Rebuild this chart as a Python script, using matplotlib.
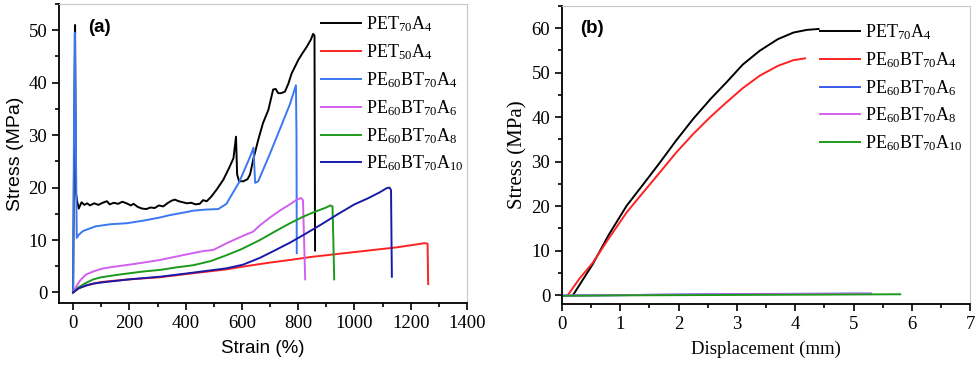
import numpy as np
import matplotlib.pyplot as plt
from matplotlib.ticker import MultipleLocator

plt.rcParams['font.family'] = ['Liberation Serif', 'DejaVu Serif']
plt.rcParams['mathtext.fontset'] = 'custom'
plt.rcParams['mathtext.rm'] = 'Liberation Serif'
plt.rcParams['mathtext.it'] = 'Liberation Serif'

# ---- (a) stress-strain data ----
pet70_x = [0, 4, 7, 10, 14, 20, 30, 40, 50, 60, 75, 90, 105, 120, 130, 145, 160, 175, 190, 205, 215,
           230, 245, 260, 275, 290, 305, 320, 335, 350, 362, 375, 390, 405, 420, 435, 450, 462, 475,
           490, 510, 534, 555, 570, 579, 583, 590, 605, 620, 629, 640, 658, 675, 694, 711, 720, 729,
           740, 753, 765, 777, 790, 800, 815, 830, 845, 853, 858, 860]
pet70_y = [0, 30, 51, 19, 17.5, 16.0, 17.2, 16.7, 17.0, 16.6, 17.0, 16.7, 17.1, 17.4, 16.8, 17.1, 16.9, 17.3, 17.0, 16.6, 16.9,
           16.3, 16.0, 15.9, 16.2, 16.1, 16.6, 16.4, 17.0, 17.5, 17.7, 17.4, 17.2, 17.0, 17.1, 16.8, 16.9, 17.6, 17.4,
           18.2, 19.6, 21.5, 23.8, 25.6, 29.7, 22.5, 21.2, 21.2, 21.6, 22.5, 25.3, 29.1, 32.3, 34.8, 38.7, 38.8, 38.0,
           38.0, 38.3, 39.8, 41.8, 43.2, 44.3, 45.6, 46.8, 48.2, 49.3, 49.0, 8.0]

pet50_x = [0, 20, 50, 100, 200, 309, 400, 545, 600, 700, 771, 850, 950, 1050, 1150, 1200, 1250, 1260, 1262]
pet50_y = [0, 0.8, 1.4, 2.0, 2.5, 2.9, 3.5, 4.4, 4.9, 5.7, 6.2, 6.8, 7.4, 8.0, 8.6, 9.0, 9.4, 9.3, 1.6]

a4_x = [0, 3, 6, 13, 20, 35, 49, 80, 131, 191, 250, 280, 309, 340, 369, 400, 428, 470, 516, 545,
        569, 590, 610, 630, 641, 647, 658, 700, 740, 770, 792, 794, 795]
a4_y = [0, 30, 49.5, 10.4, 11.0, 11.7, 12.0, 12.6, 13.0, 13.2, 13.7, 14.0, 14.3, 14.7, 15.0, 15.3, 15.6, 15.8, 15.9, 16.9,
        19.1, 21.0, 23.5, 26.0, 27.6, 20.9, 21.2, 26.5, 31.8, 35.8, 39.5, 30.0, 7.5]

a6_x = [0, 10, 25, 45, 72, 100, 131, 200, 250, 309, 380, 463, 498, 550, 600, 640, 664,
        700, 740, 771, 795, 810, 817, 821, 825]
a6_y = [0, 1.0, 2.3, 3.4, 4.0, 4.5, 4.8, 5.3, 5.7, 6.2, 7.0, 7.9, 8.1, 9.5, 10.7, 11.6, 12.8,
        14.3, 15.8, 16.8, 17.7, 18.0, 17.6, 10.0, 2.5]

a8_x = [0, 20, 45, 72, 100, 150, 191, 250, 309, 370, 428, 490, 545, 600, 664, 720, 771, 820, 860,
        895, 915, 922, 925, 928]
a8_y = [0, 1.0, 1.8, 2.5, 2.9, 3.3, 3.6, 4.0, 4.3, 4.8, 5.2, 6.0, 7.1, 8.3, 10.0, 11.7, 13.2, 14.5, 15.4,
        16.1, 16.6, 16.4, 10.0, 2.5]

a10_x = [0, 20, 45, 72, 100, 200, 309, 400, 545, 604, 664, 720, 771, 820, 880, 940, 1000,
         1050, 1090, 1115, 1125, 1130, 1133]
a10_y = [0, 0.8, 1.3, 1.7, 1.9, 2.5, 3.0, 3.6, 4.6, 5.3, 6.6, 8.1, 9.5, 11.0, 12.9, 14.9, 16.8,
         18.0, 19.1, 19.9, 20.0, 19.5, 3.0]

# ---- (b) stress-displacement data ----
b_pet_x = [0.19, 0.35, 0.53, 0.8, 1.11, 1.4, 1.68, 1.95, 2.25, 2.55, 2.82, 3.1, 3.39, 3.7, 3.97, 4.2, 4.4]
b_pet_y = [0, 3.3, 7.0, 13.5, 20.1, 25.0, 29.8, 34.6, 39.6, 44.1, 47.8, 51.8, 54.9, 57.5, 59.0, 59.6, 59.8]
b_a4_x = [0.10, 0.3, 0.53, 0.8, 1.11, 1.4, 1.68, 1.95, 2.25, 2.55, 2.82, 3.1, 3.39, 3.7, 3.97, 4.17]
b_a4_y = [0, 3.7, 7.3, 12.7, 18.6, 23.2, 27.6, 31.9, 36.2, 40.1, 43.3, 46.5, 49.3, 51.5, 52.8, 53.2]
b_a6_x = [0, 1, 2, 3, 4, 5, 5.3]
b_a6_y = [-0.1, 0.0, 0.15, 0.25, 0.3, 0.35, 0.35]
b_a8_x = [0, 1, 2, 3, 4, 5, 5.3]
b_a8_y = [-0.1, 0.0, 0.1, 0.2, 0.25, 0.3, 0.3]
b_a10_x = [0, 1, 2, 3, 4, 5, 5.8]
b_a10_y = [-0.15, -0.05, 0.0, 0.05, 0.1, 0.15, 0.2]

lab_pet70 = r'PET$_{70}$A$_{4}$'
lab_pet50 = r'PET$_{50}$A$_{4}$'
lab_a4 = r'PE$_{60}$BT$_{70}$A$_{4}$'
lab_a6 = r'PE$_{60}$BT$_{70}$A$_{6}$'
lab_a8 = r'PE$_{60}$BT$_{70}$A$_{8}$'
lab_a10 = r'PE$_{60}$BT$_{70}$A$_{10}$'

c_black = '#000000'
c_red = '#ff2222'
c_lblue = '#3a78f2'
c_mag = '#d35ff0'
c_green = '#1c9a1c'
c_dblue = '#1a1aa8'
c_blue_b = '#3a5ae8'

fig = plt.figure(figsize=(9.79, 3.65), dpi=100)
ax1 = fig.add_axes([0.0603, 0.170, 0.4167, 0.819])
ax2 = fig.add_axes([0.574, 0.167, 0.417, 0.817])


def style_axes(ax):
    ax.spines['top'].set_color('#c8c8c8')
    ax.spines['right'].set_color('#c8c8c8')
    ax.spines['left'].set_linewidth(1.3)
    ax.spines['bottom'].set_linewidth(1.3)
    ax.tick_params(which='both', direction='out', top=False, right=False, width=1.2)
    ax.tick_params(which='major', length=5, labelsize=13.5)
    ax.tick_params(which='minor', length=3)


lw = 1.4
ax1.plot(pet70_x, pet70_y, color=c_black, lw=lw, label=lab_pet70)
ax1.plot(pet50_x, pet50_y, color=c_red, lw=lw, label=lab_pet50)
ax1.plot(a4_x, a4_y, color=c_lblue, lw=lw, label=lab_a4)
ax1.plot(a6_x, a6_y, color=c_mag, lw=lw, label=lab_a6)
ax1.plot(a8_x, a8_y, color=c_green, lw=lw, label=lab_a8)
ax1.plot(a10_x, a10_y, color=c_dblue, lw=lw, label=lab_a10)
ax1.set_xlim(-50, 1400)
ax1.set_ylim(-2, 55)
ax1.xaxis.set_major_locator(MultipleLocator(200))
ax1.xaxis.set_minor_locator(MultipleLocator(100))
ax1.yaxis.set_major_locator(MultipleLocator(10))
ax1.yaxis.set_minor_locator(MultipleLocator(5))
style_axes(ax1)
ax1.set_xlabel('Strain (%)', fontsize=13.5, family=['Liberation Sans'], labelpad=6)
ax1.set_ylabel('Stress (MPa)', fontsize=14, family=['Liberation Sans'], labelpad=3)
ax1.text(0.071, 0.923, '(a)', transform=ax1.transAxes, fontsize=13.5, fontweight='bold',
         family=['Liberation Sans'], va='center')
ax1.legend(loc='upper right', bbox_to_anchor=(1.015, 0.995), frameon=False, fontsize=13,
           handlelength=2.2, labelspacing=0.45, borderaxespad=0.1, handletextpad=0.3)

ax2.plot(b_pet_x, b_pet_y, color=c_black, lw=lw, label=lab_pet70)
ax2.plot(b_a4_x, b_a4_y, color=c_red, lw=lw, label=lab_a4)
ax2.plot(b_a6_x, b_a6_y, color=c_blue_b, lw=lw, label=lab_a6)
ax2.plot(b_a8_x, b_a8_y, color=c_mag, lw=lw, label=lab_a8)
ax2.plot(b_a10_x, b_a10_y, color=c_green, lw=lw, label=lab_a10)
ax2.set_xlim(0, 7)
ax2.set_ylim(-2, 65)
ax2.xaxis.set_major_locator(MultipleLocator(1))
ax2.xaxis.set_minor_locator(MultipleLocator(0.5))
ax2.yaxis.set_major_locator(MultipleLocator(10))
ax2.yaxis.set_minor_locator(MultipleLocator(5))
style_axes(ax2)
ax2.set_xlabel('Displacement (mm)', fontsize=13.5, labelpad=6)
ax2.set_ylabel('Stress (MPa)', fontsize=15, labelpad=3)
ax2.text(0.044, 0.923, '(b)', transform=ax2.transAxes, fontsize=13.5, fontweight='bold',
         family=['Liberation Sans'], va='center')
ax2.legend(loc='upper right', bbox_to_anchor=(1.005, 0.975), frameon=False, fontsize=13,
           handlelength=2.2, labelspacing=0.45, borderaxespad=0.1, handletextpad=0.3)

fig.savefig('out.png', dpi=100)
